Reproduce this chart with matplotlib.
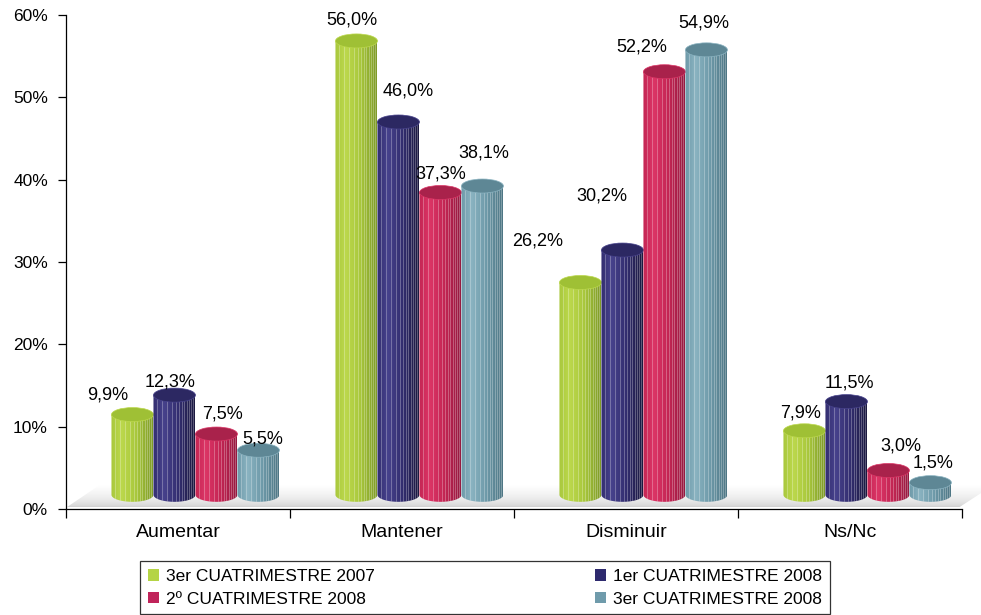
import numpy as np
import matplotlib
matplotlib.use("Agg")
import matplotlib.pyplot as plt
from matplotlib.patches import Polygon, Ellipse, Patch
from matplotlib.collections import LineCollection
from matplotlib.colors import to_rgb

plt.rcParams["font.family"] = ["Liberation Sans", "DejaVu Sans"]
plt.rcParams["font.size"] = 12.5

# datos (%)
categorias = ["Aumentar", "Mantener", "Disminuir", "Ns/Nc"]
series = ["3er CUATRIMESTRE 2007", "1er CUATRIMESTRE 2008",
          "2º CUATRIMESTRE 2008", "3er CUATRIMESTRE 2008"]
c3_2007 = [9.9, 56.0, 26.2, 7.9]
c1_2008 = [12.3, 46.0, 30.2, 11.5]
c2_2008 = [7.5, 37.3, 52.2, 3.0]
c3_2008 = [5.5, 38.1, 54.9, 1.5]
valores = [c3_2007, c1_2008, c2_2008, c3_2008]

# colores de cada cilindro: claro, medio, oscuro, tapa, leyenda
colores = [
    ("#bcd84c", "#a9c83d", "#7f9b28", "#9fc035", "#b5d445"),
    ("#47428c", "#332e70", "#1c1940", "#2c2862", "#2e2a6e"),
    ("#dc3566", "#c42654", "#961a40", "#a9224b", "#c0245a"),
    ("#8ab3c1", "#6e9aa9", "#4e7684", "#5e8795", "#6f9bab"),
]

# desplazamiento de las etiquetas (px) respecto al centro de la tapa
desp_etiquetas = [
    [(-25, -19.5), (-4.5, -20.7), (-42.5, -41.5), (-3.5, -17.7)],
    [(-4.5, -13.6), (9.5, -30.5), (-20.5, -54.1), (2.5, -18.6)],
    [(6.5, -20.0), (0.5, -18.4), (-22.5, -25.2), (12, -24.1)],
    [(4, -11.4), (1.5, -33.1), (-2.5, -26.6), (3, -19.2)],
]

W, H = 981, 615
fig = plt.figure(figsize=(W / 100, H / 100), dpi=100)
rect = [66 / W, 1 - 509 / H, (W - 66) / W, (509 - 15) / H]
ax = fig.add_axes(rect)
ax.set_xlim(-0.5, 3.585)
ax.set_ylim(0, 60)

# ejes para los cilindros: plano proyectado de la perspectiva 3D
axb = fig.add_axes(rect, sharex=ax)
axb.set_ylim(-1.75, 59.2)
axb.axis("off")
axb.patch.set_visible(False)

ancho = 0.1875   # ancho de cada cilindro
alto_elipse = 1.73
desfase = 0.078


def gradiente(cols, stops, n=64):
    t = np.linspace(0, 1, n)
    rgb = np.array([to_rgb(c) for c in cols])
    img = np.stack([np.interp(t, stops, rgb[:, k]) for k in range(3)], axis=-1)
    return img[np.newaxis, :, :]


# suelo gris en perspectiva
suelo = Polygon([(-0.495, 0.25), (3.49, 0.25), (3.64, 2.9), (-0.35, 2.9)],
                closed=True, facecolor="none", edgecolor="none")
ax.add_patch(suelo)
t = np.linspace(0, 1, 48)[:, None]
gris = 0.80 + 0.20 * np.sqrt(t)
img_suelo = np.stack([gris] * 3, axis=-1)
im = ax.imshow(img_suelo, extent=[-0.5, 3.7, 0.25, 2.9], origin="lower",
               aspect="auto", interpolation="bilinear", zorder=1)
im.set_clip_path(suelo)


def cilindro(xc, v, cols, z):
    claro, medio, oscuro, tapa, _ = cols
    x0, x1 = xc - ancho / 2, xc + ancho / 2
    th = np.linspace(np.pi, 2 * np.pi, 40)
    fondo = np.column_stack([xc + ancho / 2 * np.cos(th),
                             alto_elipse / 2 * np.sin(th)])
    verts = np.vstack([fondo, [(x1, v), (x0, v)]])
    cuerpo = Polygon(verts, closed=True, facecolor="none", edgecolor="none", zorder=z)
    axb.add_patch(cuerpo)
    img = gradiente([medio, claro, medio, oscuro], [0, 0.25, 0.6, 1.0])
    im = axb.imshow(img, extent=[x0, x1, -alto_elipse / 2, v],
                    aspect="auto", interpolation="bilinear", zorder=z)
    im.set_clip_path(cuerpo)
    # rayas verticales
    fr = [0.08, 0.2, 0.33, 0.45, 0.53, 0.6, 0.67, 0.73, 0.79, 0.85, 0.9, 0.95]
    segs = [[(x0 + f * ancho, -alto_elipse), (x0 + f * ancho, v)] for f in fr]
    lc = LineCollection(segs, colors="white", linewidths=0.6, alpha=0.33, zorder=z + 0.1)
    axb.add_collection(lc)
    lc.set_clip_path(cuerpo)
    axb.add_patch(Ellipse((xc, v), ancho, alto_elipse, facecolor=tapa,
                          edgecolor=claro, linewidth=0.5, zorder=z + 0.2))


for i in range(len(categorias)):
    for j, vals in enumerate(valores):
        xc = i + desfase + (j - 1.5) * ancho
        cilindro(xc, vals[i], colores[j], 2 + j)
        dx, dy = desp_etiquetas[j][i]
        axb.annotate(f"{vals[i]:.1f}".replace(".", ",") + "%",
                     xy=(xc, vals[i]), xytext=(dx / 1.389, -dy / 1.389),
                     textcoords="offset points", ha="center", va="center",
                     fontsize=13, zorder=10)

axb.set_xlim(-0.5, 3.585)

# ejes
ax.spines["top"].set_visible(False)
ax.spines["right"].set_visible(False)
ax.spines["bottom"].set_bounds(-0.5, 3.5)
for s in ("left", "bottom"):
    ax.spines[s].set_linewidth(0.9)

ax.set_yticks(range(0, 61, 10))
ax.set_yticklabels([f"{t}%" for t in range(0, 61, 10)])
ax.tick_params(axis="y", length=6, width=0.9, pad=7, labelsize=12.5)

ax.set_xticks([-0.5, 0.5, 1.5, 2.5, 3.5])
ax.set_xticklabels([])
ax.tick_params(axis="x", which="major", length=6.5, width=0.9)
ax.set_xticks(range(len(categorias)), minor=True)
ax.set_xticklabels(categorias, minor=True)
ax.tick_params(axis="x", which="minor", length=0, pad=11, labelsize=14)

# leyenda en dos columnas, ordenada por filas
handles = [Patch(facecolor=c[4], edgecolor="none") for c in colores]
orden = [0, 2, 1, 3]
leg = fig.legend([handles[k] for k in orden], [series[k] for k in orden],
                 loc="upper left", bbox_to_anchor=(140 / W, 1 - 561 / H, 690 / W, 0),
                 bbox_transform=fig.transFigure, mode="expand", ncol=2,
                 borderaxespad=0, borderpad=0.45, labelspacing=0.45,
                 handlelength=0.65, handleheight=0.65, handletextpad=0.4,
                 fancybox=False, edgecolor="black", fontsize=12.5)
leg.get_frame().set_linewidth(0.9)

fig.savefig("out.png", dpi=100)
